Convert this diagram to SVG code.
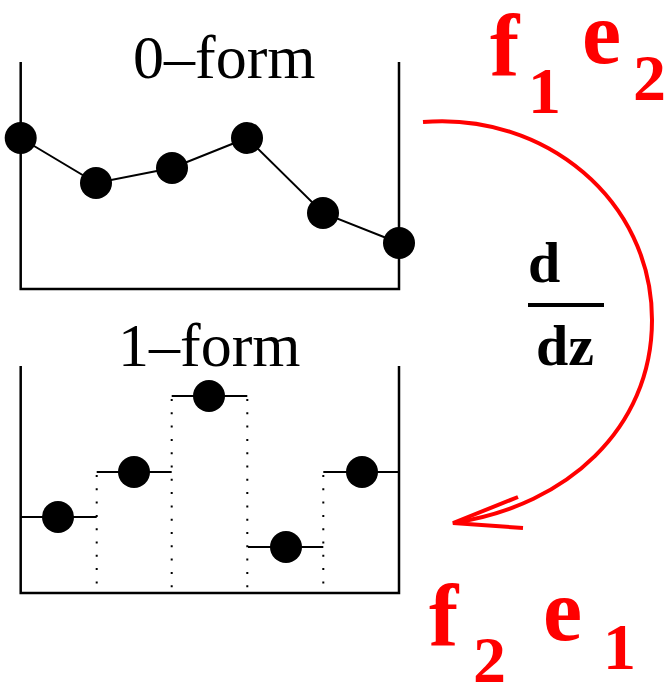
<svg xmlns="http://www.w3.org/2000/svg" width="666" height="683" viewBox="0 0 666 683">
<style>
.ax{fill:none;stroke:#000;stroke-width:2.5}
.ln{fill:none;stroke:#000;stroke-width:2}
.dt{fill:none;stroke:#000;stroke-width:2;stroke-dasharray:2 11.3}
.pt{fill:#000}
.lab{font-family:"Liberation Serif","Times New Roman",serif;font-size:62px;fill:#000}
.red{font-family:"Liberation Serif","Times New Roman",serif;font-weight:bold;fill:#f00}
.frac{font-family:"Liberation Serif","Times New Roman",serif;font-weight:bold;font-size:58px;fill:#000}
.arr{fill:none;stroke:#f00;stroke-width:4}
</style>
<rect width="666" height="683" fill="#fff"/>
<g id="zero-form">
<path class="ax" d="M20.7,62 V289 H399 V62"/>
<polyline class="ln" points="20.7,138 96,183 172,168 247,138 323,213 399,243"/>
<circle class="pt" cx="20.7" cy="138" r="16"/>
<circle class="pt" cx="96" cy="183" r="16"/>
<circle class="pt" cx="172" cy="168" r="16"/>
<circle class="pt" cx="247" cy="138" r="16"/>
<circle class="pt" cx="323" cy="213" r="16"/>
<circle class="pt" cx="399" cy="243" r="16"/>
<text class="lab" x="133" y="78">0–form</text>
</g>
<g id="one-form">
<path class="ax" d="M20.7,366 V593 H399 V366"/>
<path class="ln" d="M20.7,517 H96.7 M96.7,472 H171.7 M171.7,396 H247.3 M248,547 H323.3 M323.3,472 H399"/>
<path class="dt" d="M96.7,475 V593 M171.7,399 V593 M247.3,399 V593 M323.3,475 V593"/>
<circle class="pt" cx="58" cy="517" r="16"/>
<circle class="pt" cx="134" cy="472" r="16"/>
<circle class="pt" cx="209" cy="396" r="16"/>
<circle class="pt" cx="286" cy="547" r="16"/>
<circle class="pt" cx="362" cy="472" r="16"/>
<text class="lab" x="118" y="366">1–form</text>
</g>
<g id="labels-top">
<text class="red" x="490" y="75" font-size="88">f</text>
<text class="red" x="528" y="113" font-size="66">1</text>
<text class="red" x="582" y="63" font-size="88">e</text>
<text class="red" x="633" y="100" font-size="66">2</text>
</g>
<g id="labels-bottom">
<text class="red" x="429" y="645" font-size="88">f</text>
<text class="red" x="473" y="682" font-size="66">2</text>
<text class="red" x="543" y="640" font-size="88">e</text>
<text class="red" x="603" y="669" font-size="66">1</text>
</g>
<g id="derivative">
<text class="frac" x="528" y="282">d</text>
<rect x="528" y="303" width="76" height="4" fill="#000"/>
<text class="frac" x="536" y="365">dz</text>
</g>
<g id="connectors">
<path class="arr" d="M423,122 C545,112 652,200 652,320 C652,430 565,505 458,522"/>
<path class="arr" d="M518,497 L453,523 L523,528"/>
</g>
</svg>
